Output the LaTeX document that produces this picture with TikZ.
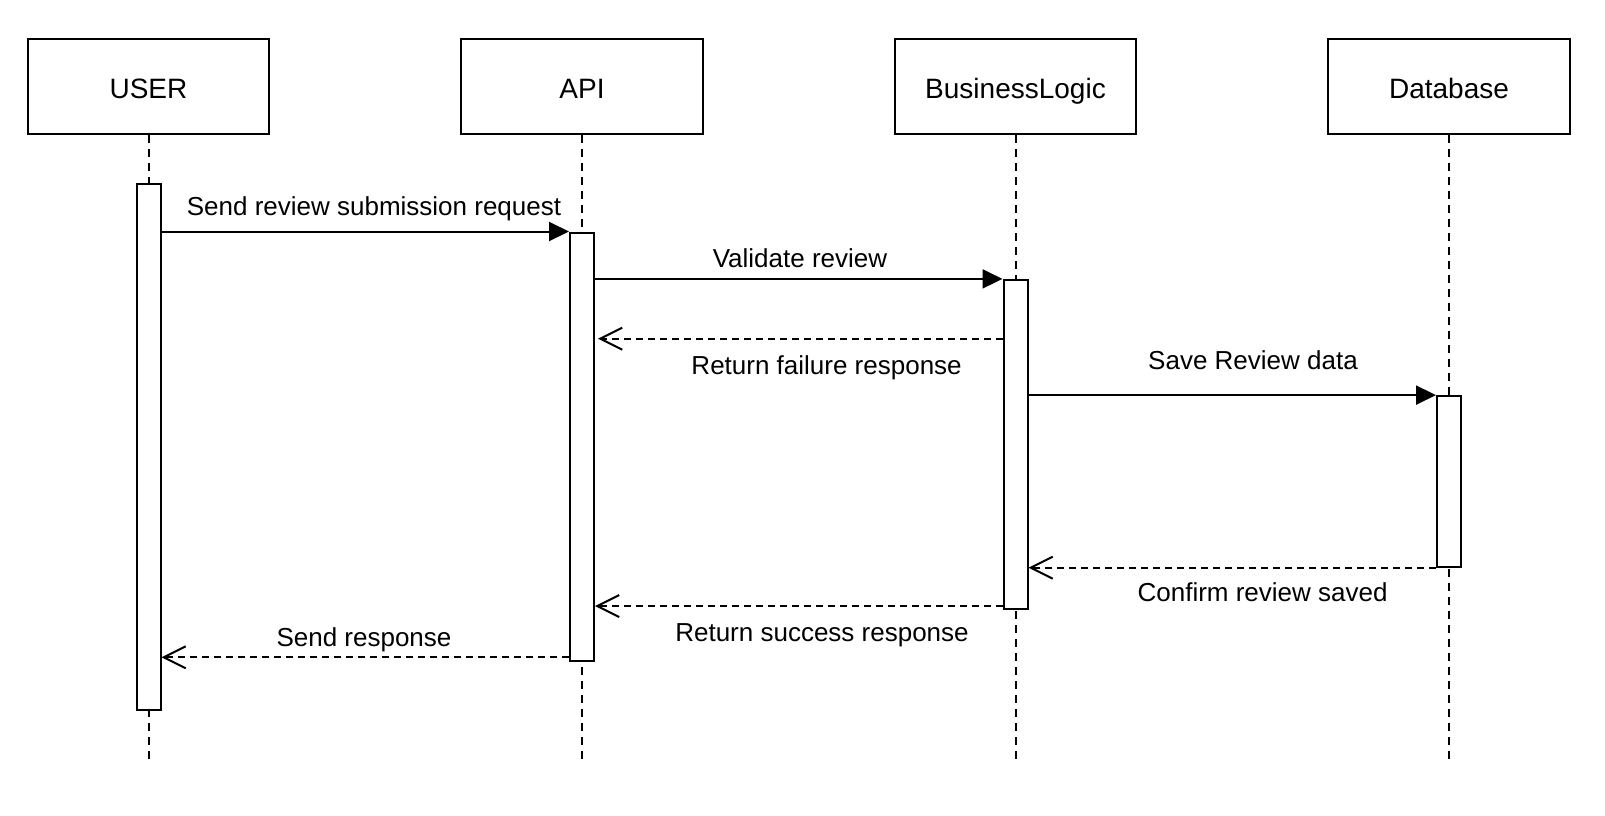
\documentclass[tikz,border=0pt]{standalone}
\usepackage{fontspec}
\setmainfont{Liberation Sans}
\usetikzlibrary{arrows.meta, positioning, calc}

\begin{document}
\begin{tikzpicture}[
  x=0.5pt, y=-0.5pt,
  %% Estilo base: cajas de participante y barras de activación
  actor/.style={rectangle, draw, line width=1pt,
                minimum width=120.8pt, minimum height=47.6pt,
                inner sep=0pt, text height=14pt, text depth=1.8pt,
                font=\fontsize{14}{16}\selectfont},
  life/.style={line width=1pt, dash pattern=on 4pt off 3pt},
  act/.style={rectangle, draw, fill=white, line width=1pt,
              minimum width=12pt, inner sep=0pt, anchor=north},
  call/.style={-{Triangle[length=10pt, width=9.5pt]}, line width=1pt},
  ret/.style={-{Straight Barb[length=11pt, width=11pt, line width=1pt]},
              line width=1pt, dash pattern=on 3.5pt off 2.5pt},
  lbl/.style={font=\fontsize{13}{15}\selectfont, inner sep=0pt, anchor=base}
]
\useasboundingbox (0,0) rectangle (1605,815);

%% ── Participantes ────────────────────────────────────────────────────────
\node[actor] (user)  at (148.5,86.5)  {USER};
\node[actor] (api)   at (582,86.5)    {API};
\node[actor] (logic) at (1015.5,86.5) {BusinessLogic};
\node[actor] (db)    at (1449,86.5)   {Database};

%% ── Líneas de vida ───────────────────────────────────────────────────────
\foreach \p/\x in {user/148.5, api/582, logic/1015.5, db/1449} {
  \coordinate (\p-end) at (\x,760.5);
  \draw[life] (\p.south) -- (\p-end);
}

%% ── Barras de activación ─────────────────────────────────────────────────
\node[act, minimum height=263.1pt] (userAct)  at (148.5,183.2) {};
\node[act, minimum height=214pt]   (apiAct)   at (582,231.5)   {};
\node[act, minimum height=164.7pt] (logicAct) at (1015.5,278.9) {};
\node[act, minimum height=85.3pt]  (dbAct)    at (1449,395.1)  {};

%% ── Mensajes ─────────────────────────────────────────────────────────────
\coordinate (fail)    at (1015.5,338.7);
\coordinate (okRet)   at (1015.5,606);
\coordinate (respRet) at (582,657.3);
\draw[call] (userAct.east |- apiAct.north)   -- (apiAct.north west);
\draw[call] (apiAct.east |- logicAct.north)  -- (logicAct.north west);
\draw[ret]  (logicAct.west |- fail)          -- ($(apiAct.east |- fail)+(3,0)$);
\draw[call] (logicAct.east |- dbAct.north)   -- (dbAct.north west);
\draw[ret]  (dbAct.south west)               -- (logicAct.east |- dbAct.south);
\draw[ret]  (logicAct.west |- okRet)         -- (apiAct.east |- okRet);
\draw[ret]  (apiAct.west |- respRet)         -- (userAct.east |- respRet);

%% ── Etiquetas ────────────────────────────────────────────────────────────
\node[lbl] (lSubmit)  at (374,215)      {Send review submission request};
\node[lbl] (lValid)   at (800,267.3)    {Validate review};
\node[lbl] (lFail)    at (826.6,374)    {Return failure response};
\node[lbl] (lSave)    at (1253,369)     {Save Review data};
\node[lbl] (lSaved)   at (1262.6,601.7) {Confirm review saved};
\node[lbl] (lSuccess) at (822,641.7)    {Return success response};
\node[lbl] (lResp)    at (364,646)      {Send response};

\end{tikzpicture}
\end{document}
